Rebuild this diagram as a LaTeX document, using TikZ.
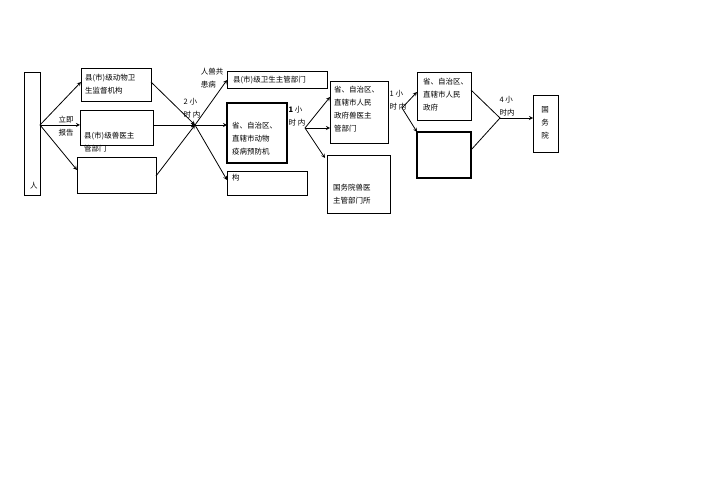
\documentclass[tikz,border=0pt]{standalone}
\usepackage{fontspec}
\setmainfont{Noto Sans CJK SC}
\begin{document}
\begin{tikzpicture}[x=1pt,y=-1pt,
  bx/.style={draw,thick},
  t/.style={font=\fontsize{7.5}{13}\selectfont,align=left,inner sep=0},
  ar/.style={->,>=stealth,thick}]
\useasboundingbox (0,0) rectangle (707,500);
\fill[white] (0,0) rectangle (707,500);
% boxes
\draw[bx] (24,72) rectangle (40,195);
\node[t] (ren) at (34,186) {人};
\coordinate (L) at (40,125);
\draw[bx] (81,68) rectangle (151,101);
\node[t,anchor=north west] (a) at (85,74) {县(市)级动物卫\\生监督机构};
\draw[bx] (80,110) rectangle (153,145);
\node[t,anchor=north west] (b) at (84,132) {县(市)级兽医主\\管部门};
\draw[bx] (77,157) rectangle (156,193);
\node[t] (lj) at (66,126) {立即\\报告};
\coordinate (J1) at (195,125);
\draw[ar] (L) -- (81,82);
\draw[ar] (L) -- (80,125);
\draw[ar] (L) -- (77,170);
\draw[ar] (151,82) -- (J1);
\draw[ar] (153,125) -- (J1);
\draw[ar] (156,176) -- (J1);
\node[t] (h2) at (192,108) {2 小\\时 内};
\node[t] (rs) at (212,78) {人兽共\\患病};
\draw[bx] (227,71) rectangle (327,88);
\node[t,anchor=west] (d) at (233,80) {县(市)级卫生主管部门};
\draw[bx,line width=1.2pt] (227,103) rectangle (287,163);
\node[t,anchor=north west] (e) at (232,122) {省、自治区、\\直辖市动物\\疫病预防机};
\draw[bx] (227,171) rectangle (307,195);
\node[t,anchor=west] (f) at (232,178) {构};
\draw[ar] (J1) -- (227,80);
\draw[ar] (J1) -- (227,125);
\draw[ar] (J1) -- (227,180);
\node[t] (h1) at (297,116) {\textbf{1} 小\\时 内};
\coordinate (J2) at (305,128);
\draw[bx] (330,81) rectangle (388,143);
\node[t,anchor=north west] (g) at (334,86) {省、自治区、\\直辖市人民\\政府兽医主\\管部门};
\draw[bx] (327,155) rectangle (390,213);
\node[t,anchor=north west] (h) at (333,184) {国务院兽医\\主管部门所};
\draw[ar] (J2) -- (330,97);
\draw[ar] (J2) -- (330,128);
\draw[ar] (J2) -- (325,158);
\node[t] (h1b) at (398,100) {1 小\\时 内};
\coordinate (J3) at (402,108);
\draw[bx] (417,72) rectangle (471,120);
\node[t,anchor=north west] (i) at (423,78) {省、自治区、\\直辖市人民\\政府};
\draw[bx,line width=1.2pt] (417,132) rectangle (471,178);
\draw[ar] (J3) -- (417,92);
\draw[ar] (J3) -- (417,132);
\coordinate (J4) at (500,118);
\draw[thick] (471,90) -- (J4) -- (471,150);
\draw[ar] (J4) -- (533,118);
\node[t] (h4) at (507,106) {4 小\\时内};
\draw[bx] (533,95) rectangle (558,152);
\node[t,align=center] (k) at (545,123) {国\\务\\院};
\end{tikzpicture}
\end{document}
